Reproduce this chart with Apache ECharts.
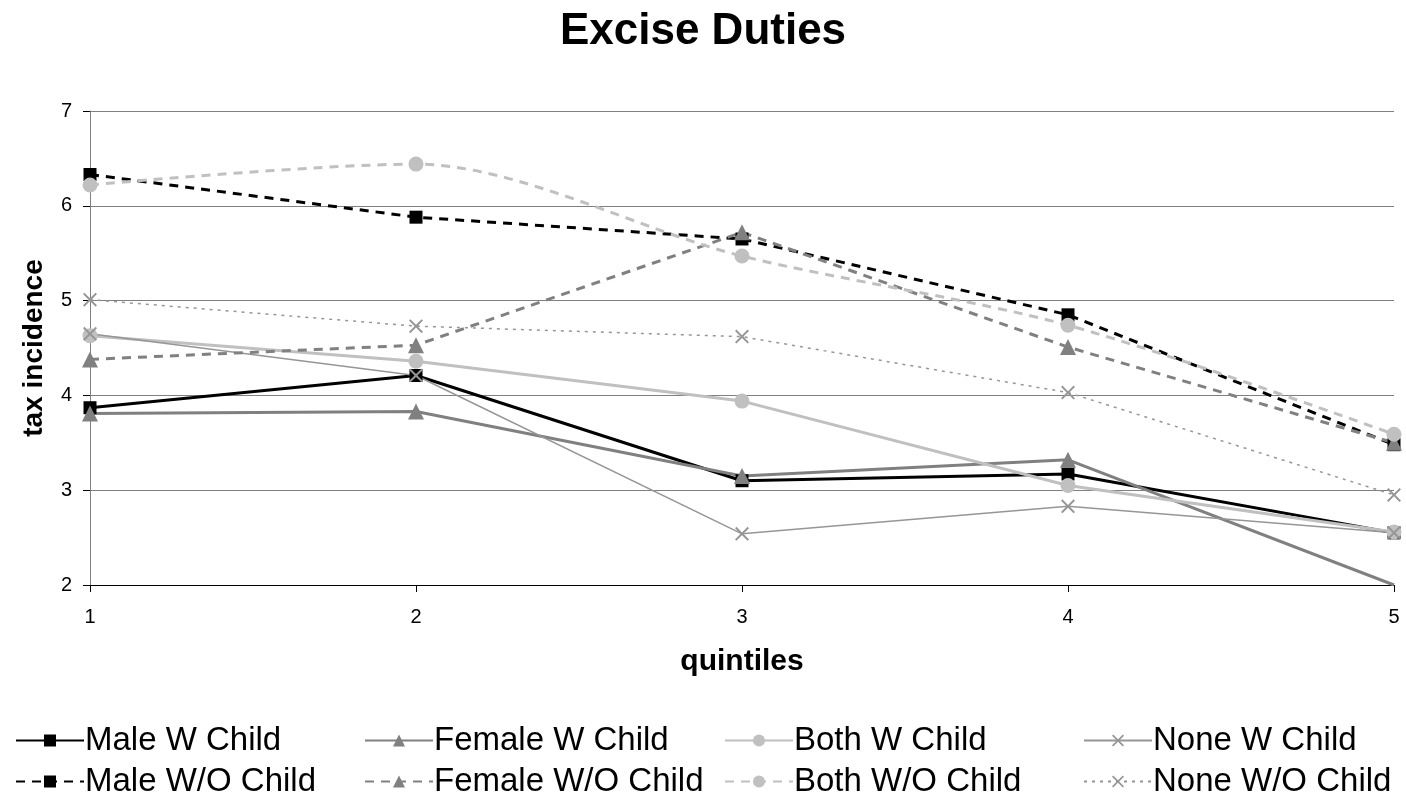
<!DOCTYPE html>
<html>
<head>
<meta charset="utf-8">
<script src="https://cdn.jsdelivr.net/npm/echarts@6/dist/echarts.min.js"></script>
<style>
html,body{margin:0;padding:0;background:#fff;}
#chart{width:1406px;height:804px;}
</style>
</head>
<body>
<div id="chart"></div>
<script>
const categories = ['1', '2', '3', '4', '5'];
const yTicks = [2, 3, 4, 5, 6, 7];

const maleWChild = [3.87, 4.21, 3.10, 3.17, 2.55];
const femaleWChild = [3.81, 3.83, 3.15, 3.32, 2.00];
const bothWChild = [4.63, 4.36, 3.94, 3.05, 2.56];
const noneWChild = [4.65, 4.21, 2.54, 2.83, 2.55];
const maleWOChild = [6.33, 5.88, 5.65, 4.85, 3.48];
const femaleWOChild = [4.38, 4.53, 5.72, 4.51, 3.50];
const bothWOChild = [6.22, 6.44, 5.47, 4.74, 3.59];
const noneWOChild = [5.01, 4.73, 4.62, 4.03, 2.95];

const FONT = 'Liberation Sans, Arial, Helvetica, sans-serif';
const X_PATH = 'path://M0,1L1,0L5,4L9,0L10,1L6,5L10,9L9,10L5,6L1,10L0,9L4,5Z';

function mk(name, data, color, width, type, symbol, size, smooth) {
  return {
    name: name,
    type: 'line',
    data: data,
    smooth: smooth || false,
    symbol: symbol,
    symbolSize: size,
    showAllSymbol: true,
    lineStyle: { color: color, width: width, type: type },
    itemStyle: { color: color, borderWidth: 0 },
    emphasis: { disabled: true },
    animation: false
  };
}

const femaleData = femaleWChild.map((v, i) => i === 4 ? { value: v, symbol: 'none' } : v);

const series = [
  mk('Male W Child', maleWChild, '#000000', 3, 'solid', 'rect', 13, false),
  mk('Female W Child', femaleData, '#808080', 3, 'solid', 'triangle', 16, false),
  mk('Both W Child', bothWChild, '#c0c0c0', 3, 'solid', 'circle', 15, false),
  mk('None W Child', noneWChild, '#969696', 1.5, 'solid', X_PATH, 14, false),
  mk('Male W/O Child', maleWOChild, '#000000', 3, [9, 7], 'rect', 13, false),
  mk('Female W/O Child', femaleWOChild, '#808080', 3, [9, 7], 'triangle', 16, false),
  mk('Both W/O Child', bothWOChild, '#c0c0c0', 3, [9, 7], 'circle', 15, 0.3),
  mk('None W/O Child', noneWOChild, '#969696', 1.5, [3, 5], X_PATH, 14, false)
];

function legend(left, names) {
  return {
    left: left,
    top: 719,
    orient: 'vertical',
    itemGap: 8,
    itemWidth: 68,
    itemHeight: 15,
    data: names,
    selectedMode: false,
    textStyle: { fontFamily: FONT, fontSize: 33, color: '#000', padding: [0, 0, 0, -4] }
  };
}

const chart = echarts.init(document.getElementById('chart'), null, { renderer: 'canvas' });
chart.setOption({
  backgroundColor: '#ffffff',
  animation: false,
  title: {
    text: 'Excise Duties',
    left: 'center',
    top: 5,
    textStyle: { fontFamily: FONT, fontSize: 44, fontWeight: 'bold', color: '#000' }
  },
  legend: [
    legend(10, ['Male W Child', 'Male W/O Child']),
    legend(359, ['Female W Child', 'Female W/O Child']),
    legend(719, ['Both W Child', 'Both W/O Child']),
    legend(1078, ['None W Child', 'None W/O Child'])
  ],
  grid: { left: 90, right: 12, top: 111, bottom: 219, containLabel: false },
  xAxis: {
    type: 'category',
    data: categories,
    boundaryGap: false,
    name: 'quintiles',
    nameLocation: 'middle',
    nameGap: 62,
    nameTextStyle: { fontFamily: FONT, fontSize: 30, fontWeight: 'bold', color: '#000' },
    axisLine: { lineStyle: { color: '#000', width: 1 } },
    axisTick: { show: true, alignWithLabel: true, length: 7, lineStyle: { color: '#000' } },
    axisLabel: { fontFamily: FONT, fontSize: 20, color: '#000', margin: 22 },
    splitLine: { show: false }
  },
  yAxis: {
    type: 'value',
    min: yTicks[0],
    max: yTicks[yTicks.length - 1],
    interval: 1,
    name: 'tax incidence',
    nameLocation: 'middle',
    nameGap: 42,
    nameTextStyle: { fontFamily: FONT, fontSize: 28, fontWeight: 'bold', color: '#000' },
    axisLine: { show: true, lineStyle: { color: '#808080', width: 1 } },
    axisTick: { show: true, length: 7, lineStyle: { color: '#000' } },
    axisLabel: { fontFamily: FONT, fontSize: 20, color: '#000', margin: 18 },
    splitLine: { show: true, lineStyle: { color: '#808080', width: 1 } }
  },
  series: series
});
</script>
</body>
</html>
